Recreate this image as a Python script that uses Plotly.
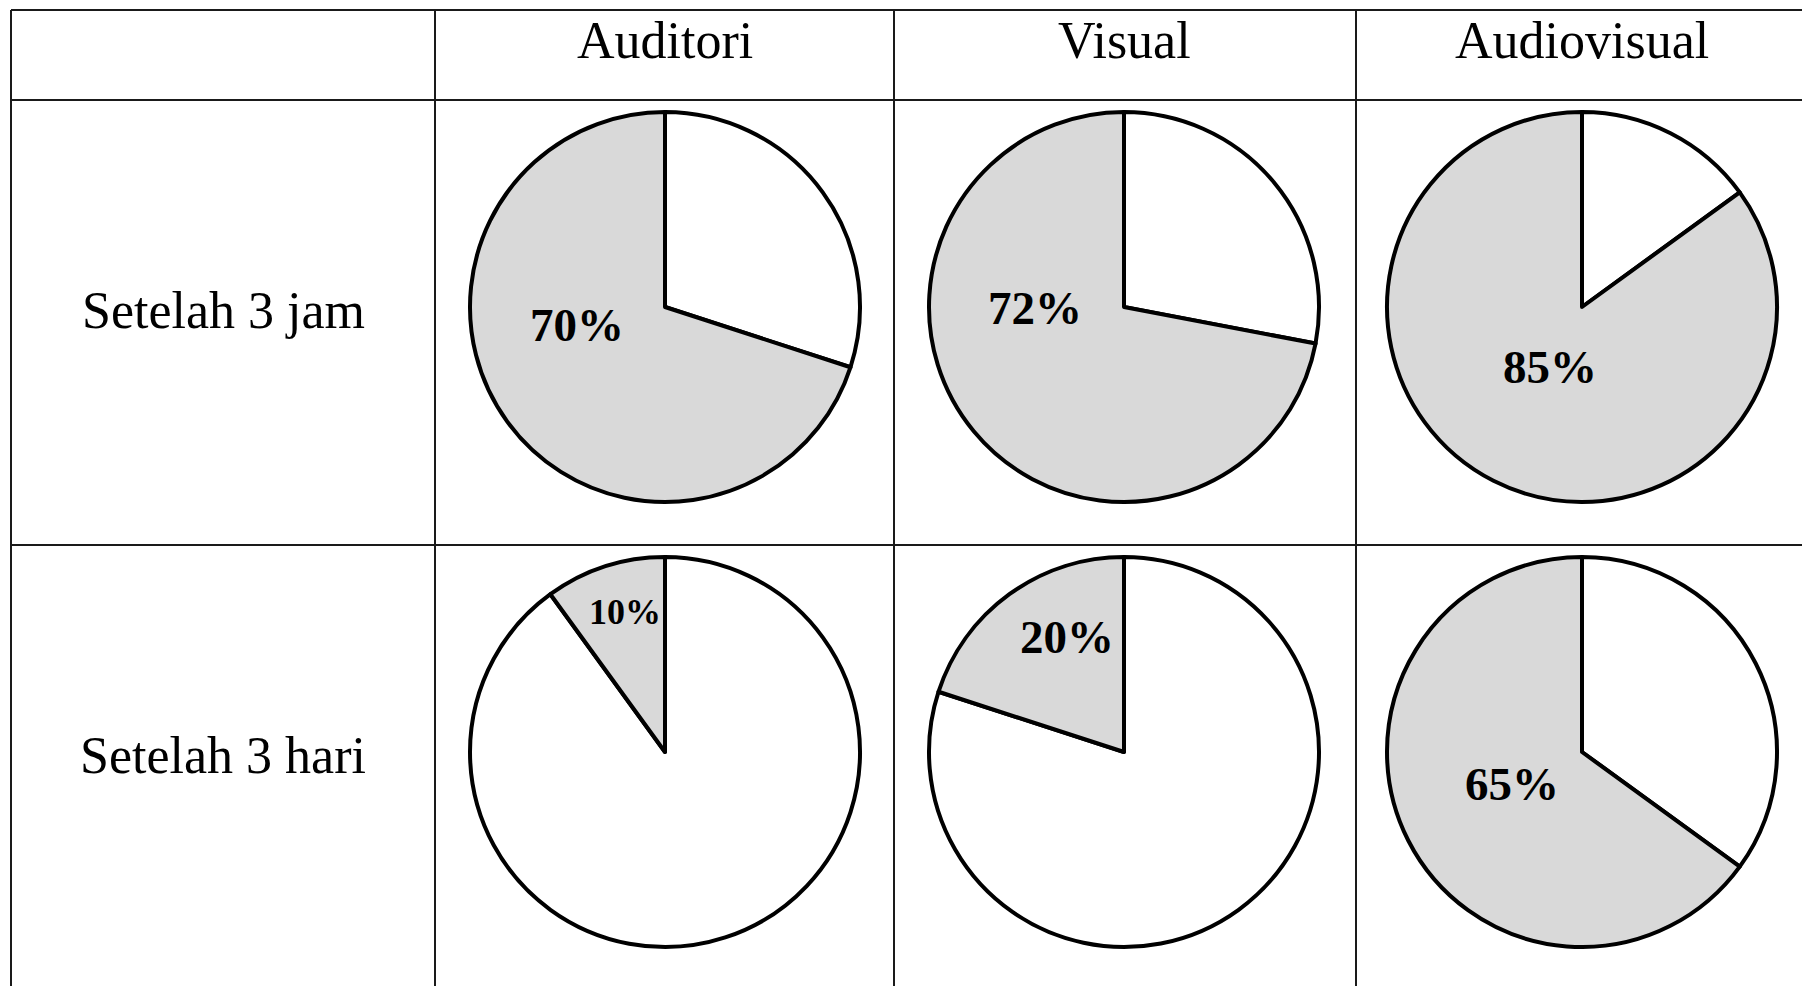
import plotly.graph_objects as go

# ---- data ----
conditions = ["Auditori", "Visual", "Audiovisual"]
time_labels = ["Setelah 3 jam", "Setelah 3 hari"]
retention_3_jam = [70, 72, 85]
retention_3_hari = [10, 20, 65]
retention = [retention_3_jam, retention_3_hari]

# ---- layout / styling (pixels) ----
W, H = 1802, 986
col_lines = [11, 435, 894, 1356, 1815]      # table vertical lines
row_lines = [10, 100, 545, 1000]            # table horizontal lines
pie_cx = [665, 1124, 1582]
pie_cy = [307, 752]
pie_r = 195
header_y = 41
rowlabel_y = [310, 755]
# label offsets in units of pie radius (dx right, dy down)
label_offsets = [[(-0.451, 0.092), (-0.456, 0.005), (-0.164, 0.308)],
                 [(-0.205, -0.718), (-0.292, -0.590), (-0.359, 0.164)]]
label_sizes = [[47, 47, 47], [36, 47, 47]]

GRAY = "#d9d9d9"
SERIF = "Liberation Serif, Times New Roman, serif"


def px(x):
    return x / W


def py(y):
    return 1 - y / H


fig = go.Figure()
annotations = []

for ri, row in enumerate(retention):
    for ci, val in enumerate(row):
        cx, cy = pie_cx[ci], pie_cy[ri]
        # white (forgotten) part runs clockwise from 12 o'clock, gray (retained) fills the rest
        fig.add_trace(go.Pie(
            values=[100 - val, val],
            labels=["lupa", "ingat"],
            marker=dict(colors=["white", GRAY], line=dict(color="black", width=4)),
            sort=False,
            direction="clockwise",
            rotation=0,
            textinfo="none",
            hoverinfo="skip",
            showlegend=False,
            domain=dict(x=[px(cx - pie_r), px(cx + pie_r)],
                        y=[py(cy + pie_r), py(cy - pie_r)]),
        ))
        dx, dy = label_offsets[ri][ci]
        annotations.append(dict(
            x=px(cx + dx * pie_r), y=py(cy + dy * pie_r),
            xref="paper", yref="paper", xanchor="center", yanchor="middle",
            text=f"<b>{val}%</b>", showarrow=False,
            font=dict(family=SERIF, size=label_sizes[ri][ci], color="black"),
        ))

# header texts
for ci, name in enumerate(conditions):
    annotations.append(dict(
        x=px(pie_cx[ci]),
        y=py(header_y), xref="paper", yref="paper",
        xanchor="center", yanchor="middle", text=name, showarrow=False,
        font=dict(family=SERIF, size=52, color="black"),
    ))

# row labels
for ri, name in enumerate(time_labels):
    annotations.append(dict(
        x=px((col_lines[0] + col_lines[1]) / 2), y=py(rowlabel_y[ri]),
        xref="paper", yref="paper", xanchor="center", yanchor="middle",
        text=name, showarrow=False,
        font=dict(family=SERIF, size=52, color="black"),
    ))

shapes = []
for x in col_lines:
    shapes.append(dict(type="line", xref="paper", yref="paper",
                       x0=px(x), x1=px(x), y0=py(row_lines[0]), y1=py(row_lines[-1]),
                       line=dict(color="#1a1a1a", width=2)))
for y in row_lines:
    shapes.append(dict(type="line", xref="paper", yref="paper",
                       x0=px(col_lines[0]), x1=px(col_lines[-1]), y0=py(y), y1=py(y),
                       line=dict(color="#1a1a1a", width=2)))

fig.update_layout(
    width=W, height=H,
    margin=dict(l=0, r=0, t=0, b=0),
    paper_bgcolor="white", plot_bgcolor="white",
    annotations=annotations, shapes=shapes,
)

fig.write_html("out.html", config={"displayModeBar": False},
               post_script="document.body.style.margin='0';document.body.style.overflow='hidden';")
